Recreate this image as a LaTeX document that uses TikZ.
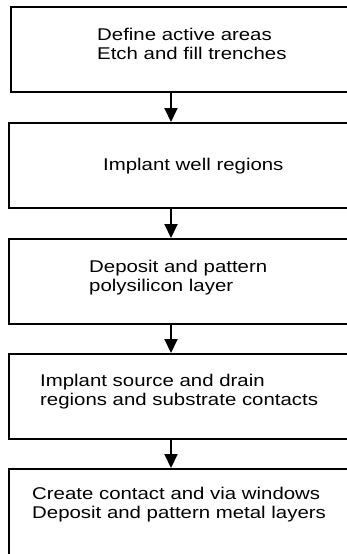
\documentclass[tikz,border=0pt]{standalone}
\usepackage{fontspec}
\setmainfont{Liberation Sans}[FakeStretch=1.2]
\usetikzlibrary{arrows.meta}

\begin{document}
\begin{tikzpicture}[x=1pt, y=-1pt,
    stagebox/.style={minimum width=420pt, minimum height=85pt,
      anchor=north west, inner sep=0pt, outer sep=0pt},
    stageline/.style={line width=2pt},
    stagetext/.style={anchor=base west, align=left, inner sep=0pt,
      font=\fontsize{17}{18.5}\selectfont},
    flow/.style={-{Triangle[width=13pt,length=14pt]}, line width=2pt}]

    % --- Frame ---
    \useasboundingbox (0,0) rectangle (347,554);
    \clip (0,0) rectangle (347,554);

    % --- Process boxes (right side runs off the page) ---
    \node[stagebox] (box1) at (11,7) {};
    \node[stagebox] (box2) at (9,123) {};
    \node[stagebox] (box3) at (9,239) {};
    \node[stagebox] (box4) at (9,354) {};
    \node[stagebox, minimum height=110pt] (box5) at (9,469) {};
    \foreach \b in {box1,box2,box3,box4,box5}
      \draw[stageline] (\b.north east) -- (\b.north west) -- (\b.south west) -- (\b.south east);

    % --- Box texts (base = last line) ---
    \node[stagetext] (text1) at (97,59) {Define active areas\\Etch and fill trenches};
    \node[stagetext] (text2) at (103,170) {Implant well regions};
    \node[stagetext] (text3) at (89,291) {Deposit and pattern\\polysilicon layer};
    \node[stagetext] (text4) at (40,405) {Implant source and drain\\regions and substrate contacts};
    \node[stagetext] (text5) at (32,518) {Create contact and via windows\\Deposit and pattern metal layers};

    % --- Flow arrows ---
    \coordinate (spine) at (171,0);
    \foreach \from/\to in {box1/box2, box2/box3, box3/box4, box4/box5}
      \draw[flow] (\from.south -| spine) -- ([yshift=1pt]\to.north -| spine);

\end{tikzpicture}
\end{document}
